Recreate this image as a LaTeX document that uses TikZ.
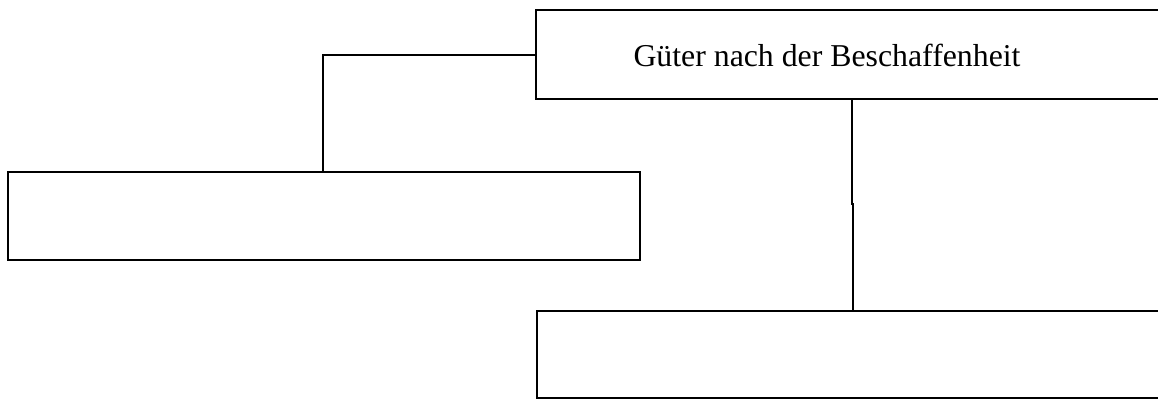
\documentclass[tikz,border=0pt]{standalone}
\usepackage{fontspec}
\setmainfont{Liberation Serif}
\begin{document}
\begin{tikzpicture}[x=1pt,y=-1pt,
  boxline/.style={draw=black,line width=1.6pt},
  conn/.style={draw=black,line width=1.6pt},
  lbl/.style={font=\fontsize{31.8}{36}\selectfont,anchor=base,inner sep=0pt}]
\useasboundingbox (0,0) rectangle (1158,399);
% boxes
\coordinate (tTL) at (536,10);
\coordinate (tBR) at (1162,99);
\draw[boxline] (tTL) rectangle (tBR);
\coordinate (lTL) at (8,172);
\coordinate (lBR) at (640,260);
\draw[boxline] (lTL) rectangle (lBR);
\coordinate (bTL) at (537,311);
\coordinate (bBR) at (1162,398);
\draw[boxline] (bTL) rectangle (bBR);
\node[lbl] (title) at (827,66) {Güter nach der Beschaffenheit};
% connectors
\coordinate (tL) at (536,55);
\coordinate (lT) at (323,172);
\draw[conn] (tL) -- (323,55) -- (lT);
\coordinate (tB) at (852,99);
\coordinate (bT) at (853,311);
\draw[conn] (tB) -- (852,204) -- (853,204) -- (bT);
\end{tikzpicture}
\end{document}
